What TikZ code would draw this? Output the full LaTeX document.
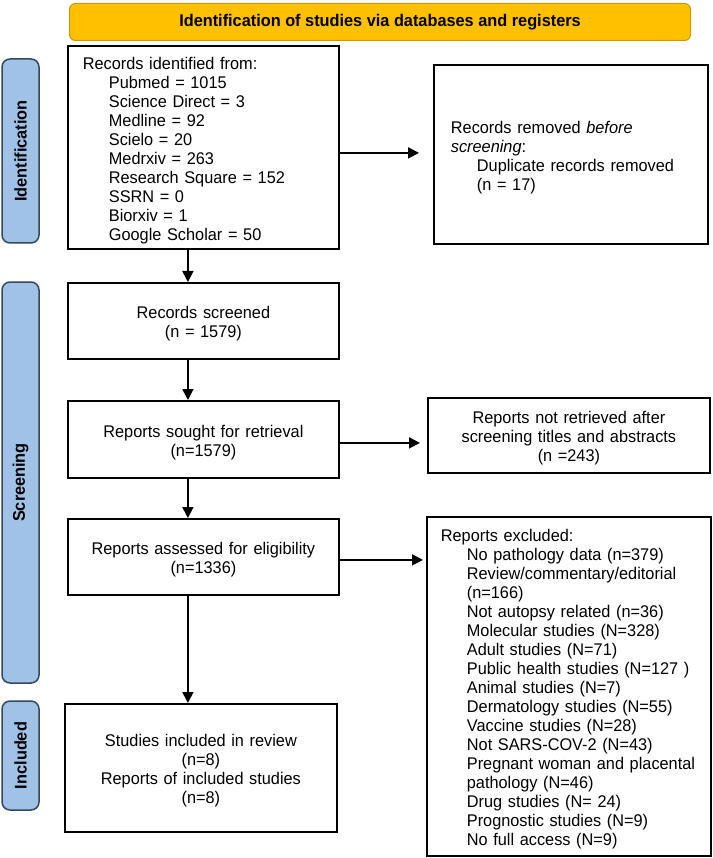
\documentclass[tikz,border=0pt]{standalone}
\usepackage{fontspec}
\setmainfont{Liberation Sans}[FakeStretch=0.965]
\usetikzlibrary{arrows.meta,calc}
\definecolor{bannerfill}{HTML}{FFC000}
\definecolor{bannerdraw}{HTML}{C99A06}
\definecolor{sidefill}{HTML}{A0C2E7}
\definecolor{sidedraw}{HTML}{34495E}
\newcommand{\myind}{\hspace*{26pt}}
\begin{document}
\begin{tikzpicture}[x=1pt,y=-1pt,
  font=\fontsize{16.9}{19}\selectfont,
  box/.style={draw=black,line width=1.8pt,anchor=north west,inner ysep=0pt,
    execute at begin node={\rule{0pt}{18pt}}},
  lbox/.style={box,align=left},
  cbox/.style={box,align=center},
  banner/.style={draw=bannerdraw,fill=bannerfill,line width=1pt,rounded corners=6pt,
    anchor=north west,font=\fontsize{16.9}{19}\selectfont\bfseries,inner sep=0pt},
  side/.style={draw=sidedraw,fill=sidefill,line width=1.5pt,rounded corners=8pt,
    rotate=90,font=\fontsize{16.9}{19}\selectfont\bfseries,inner sep=0pt,minimum height=37pt},
  arr/.style={line width=1.8pt,-{Triangle[length=11pt,width=11pt]}}
]
\useasboundingbox (0,0) rectangle (712,858);

% banner
\node[banner,minimum width=621pt,minimum height=37pt] (ban) at (69,3)
  {Identification of studies via databases and registers};

% side labels
\node[side,minimum width=184pt] (sideI) at (20.5,151) {Identification};
\node[side,minimum width=401pt] (sideS) at (20.5,482.5) {Screening};
\node[side,minimum width=109pt] (sideN) at (20.5,755.5) {Included};

% boxes
\node[lbox,minimum width=271pt,minimum height=203pt,inner xsep=15pt,text width=241pt] (rec) at (67,45)
  {Records identified from:\\
   \myind Pubmed = 1015\\
   \myind Science Direct = 3\\
   \myind Medline = 92\\
   \myind Scielo = 20\\
   \myind Medrxiv = 263\\
   \myind Research Square = 152\\
   \myind SSRN = 0\\
   \myind Biorxiv = 1\\
   \myind Google Scholar = 50};

\node[lbox,minimum width=274pt,minimum height=179pt,inner xsep=17pt,text width=240pt] (rem) at (433,64)
  {Records removed \textit{before}\\
   \textit{screening}:\\
   \myind Duplicate records removed\\
   \myind (n = 17)};

\node[cbox,minimum width=271pt,minimum height=76pt,inner xsep=10pt,text width=251pt] (scr) at (67,282)
  {Records screened\\(n = 1579)};

\node[cbox,minimum width=271pt,minimum height=77pt,inner xsep=10pt,text width=251pt] (sou) at (67,400)
  {Reports sought for retrieval\\(n=1579)};

\node[cbox,minimum width=282pt,minimum height=75pt,inner xsep=10pt,text width=262pt] (nr) at (427,397)
  {Reports not retrieved after\\screening titles and abstracts\\(n =243)};

\node[cbox,minimum width=271pt,minimum height=76pt,inner xsep=10pt,text width=251pt] (ass) at (67,518)
  {Reports assessed for eligibility\\(n=1336)};

\node[lbox,minimum width=284pt,minimum height=339pt,inner xsep=14pt,text width=256pt] (exc) at (426,516)
  {Reports excluded:\\
   \myind No pathology data (n=379)\\
   \myind Review/commentary/editorial\\
   \myind (n=166)\\
   \myind Not autopsy related (n=36)\\
   \myind Molecular studies (N=328)\\
   \myind Adult studies (N=71)\\
   \myind Public health studies (N=127 )\\
   \myind Animal studies (N=7)\\
   \myind Dermatology studies (N=55)\\
   \myind Vaccine studies (N=28)\\
   \myind Not SARS-COV-2 (N=43)\\
   \myind Pregnant woman and placental\\
   \myind pathology (N=46)\\
   \myind Drug studies (N= 24)\\
   \myind Prognostic studies (N=9)\\
   \myind No full access (N=9)};

\node[cbox,minimum width=272pt,minimum height=128pt,inner xsep=10pt,text width=252pt] (inc) at (64,703)
  {Studies included in review\\(n=8)\\Reports of included studies\\(n=8)};

% arrows
\draw[arr] ([xshift=-15.5pt]rec.south) -- ([xshift=-15.5pt]rec.south |- scr.north);
\draw[arr] ([xshift=-15.5pt]scr.south) -- ([xshift=-15.5pt]scr.south |- sou.north);
\draw[arr] ([xshift=-15.5pt]sou.south) -- ([xshift=-15.5pt]sou.south |- ass.north);
\draw[arr] ([xshift=-15.5pt]ass.south) -- ([xshift=-15.5pt]ass.south |- inc.north);

\draw[arr,shorten >=14pt] ([yshift=-5.5pt]rec.east) -- ([yshift=-5.5pt]rec.east -| rem.west);
\draw[arr,shorten >=7pt] ([yshift=-3.5pt]sou.east) -- ([yshift=-3.5pt]sou.east -| nr.west);
\draw[arr,shorten >=3pt] ([yshift=-3pt]ass.east) -- ([yshift=-3pt]ass.east -| exc.west);
\end{tikzpicture}
\end{document}
